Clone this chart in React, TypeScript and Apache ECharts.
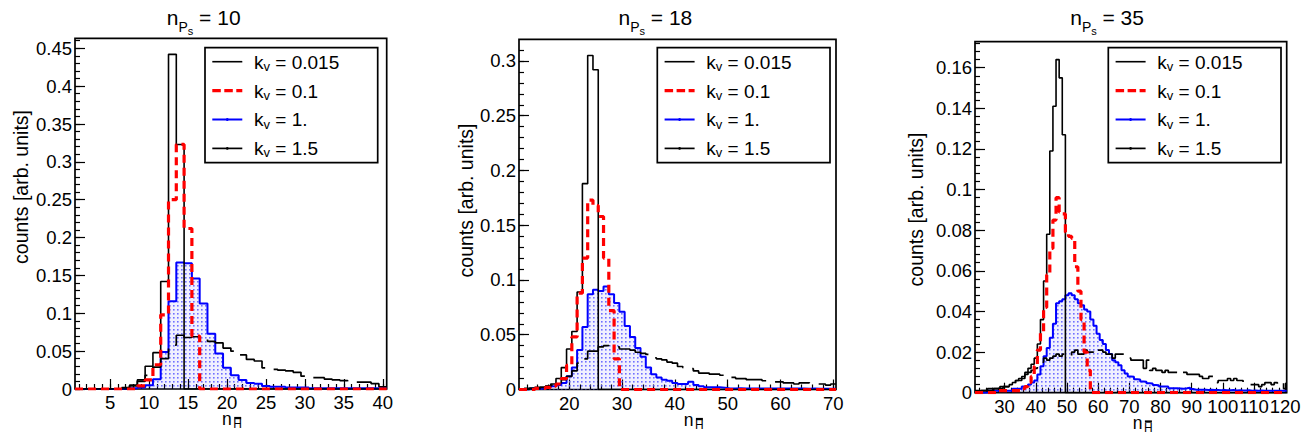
import React, { useEffect, useRef } from 'react';
import * as echarts from 'echarts';

const FONT_FAMILY = '"Liberation Sans", Arial, Helvetica, sans-serif';
const f = (size: number) => `${size}px ${FONT_FAMILY}`;

// ---------------- data ----------------
const SERIES_NAMES = ['k_v = 0.015', 'k_v = 0.1', 'k_v = 1.', 'k_v = 1.5'];
const LEGEND_VALUES = ['0.015', '0.1', '1.', '1.5'];
const PANEL_TITLE_VALUES = ['10', '18', '35'];
const Y_TITLE = 'counts [arb. units]';

// Panel 1 (n_Ps = 10): bins of width 1 centred on 1..40
const p1FirstBin = 1;
const p1_k0015 = [0, 0, 0, 0, 0, 0, 0, 0.004, 0.012, 0.030, 0.048, 0.142, 0.442, 0.323, 0, 0, 0, 0, 0, 0, 0, 0, 0, 0, 0, 0, 0, 0, 0, 0, 0, 0, 0, 0, 0, 0, 0, 0, 0, 0];
const p1_k01 = [0, 0, 0, 0, 0, 0, 0, 0, 0.004, 0.012, 0.032, 0.098, 0.250, 0.323, 0.212, 0.070, 0, 0, 0, 0, 0, 0, 0, 0, 0, 0, 0, 0, 0, 0, 0, 0, 0, 0, 0, 0, 0, 0, 0, 0];
const p1_k1 = [0, 0, 0, 0, 0, 0, 0, 0.001, 0.002, 0.005, 0.013, 0.049, 0.116, 0.167, 0.166, 0.146, 0.113, 0.073, 0.047, 0.028, 0.018, 0.012, 0.008, 0.007, 0.004, 0.003, 0.003, 0.002, 0.002, 0.002, 0.001, 0.001, 0.001, 0.001, 0.001, 0.001, 0.001, 0.001, 0.001, 0.001];
const p1_k15 = [0, 0, 0, 0, 0, 0.001, 0.002, 0.005, 0.010, 0.018, 0.029, 0.040, 0.058, 0.071, 0.068, 0.069, 0.066, 0.063, 0.061, 0.054, 0.050, 0.045, 0.039, 0.037, 0.028, 0.026, 0.025, 0.024, 0.022, 0.017, 0.015, 0.015, 0.013, 0.012, 0.011, 0.010, 0.009, 0.009, 0.007, 0.003];
const p1XLabels = [5, 10, 15, 20, 25, 30, 35, 40];
const p1YLabels = [0, 0.05, 0.1, 0.15, 0.2, 0.25, 0.3, 0.35, 0.4, 0.45];

// Panel 2 (n_Ps = 18): bins centred on 11..70
const p2FirstBin = 11;
const p2_k0015 = [0, 0, 0.001, 0.001, 0.002, 0.003, 0.005, 0.010, 0.020, 0.037, 0.053, 0.089, 0.188, 0.305, 0.292,
  0, 0, 0, 0, 0, 0, 0, 0, 0, 0, 0, 0, 0, 0, 0, 0, 0, 0, 0, 0, 0, 0, 0, 0, 0, 0, 0, 0, 0, 0, 0, 0, 0, 0, 0, 0, 0, 0, 0, 0, 0, 0, 0, 0, 0];
const p2_k01 = [0, 0, 0, 0.001, 0.001, 0.002, 0.003, 0.005, 0.010, 0.022, 0.048, 0.088, 0.120, 0.173, 0.168, 0.158, 0.120, 0.072, 0.028,
  0, 0, 0, 0, 0, 0, 0, 0, 0, 0, 0, 0, 0, 0, 0, 0, 0, 0, 0, 0, 0, 0, 0, 0, 0, 0, 0, 0, 0, 0, 0, 0, 0, 0, 0, 0, 0, 0, 0, 0, 0];
const p2_k1 = [0, 0, 0.001, 0.001, 0.001, 0.002, 0.003, 0.004, 0.006, 0.012, 0.020, 0.036, 0.057, 0.087, 0.091, 0.090, 0.094, 0.087, 0.079, 0.071,
  0.058, 0.048, 0.038, 0.030, 0.020, 0.014, 0.011, 0.009, 0.008, 0.006, 0.005, 0.005, 0.007, 0.004, 0.003, 0.002, 0.002, 0.002,
  0.0015, 0.001, 0.001, 0.0012, 0.001, 0.001, 0.001, 0.0008, 0.001, 0.001, 0.0008, 0.0008, 0.001, 0.0008, 0.0008, 0.0008, 0.0006, 0.0008, 0.0006, 0.0006, 0.0006, 0.0006];
const p2_k15 = [0, 0.001, 0.001, 0.002, 0.002, 0.003, 0.004, 0.006, 0.009, 0.012, 0.017, 0.024, 0.028, 0.035, 0.035, 0.039, 0.040, 0.039, 0.039, 0.037,
  0.037, 0.036, 0.034, 0.033, 0.032, 0.029, 0.028, 0.027, 0.025, 0.024, 0.021, 0.020, 0.019, 0.017, 0.015, 0.015, 0.014, 0.014, 0.013, 0.011,
  0.011, 0.010, 0.010, 0.009, 0.009, 0.009, 0.008, 0.008, 0.007, 0.007, 0.006, 0.006, 0.005, 0.006, 0.006, 0.005, 0.005, 0.005, 0.004, 0.005];
const p2XLabels = [20, 30, 40, 50, 60, 70];
const p2YLabels = [0, 0.05, 0.1, 0.15, 0.2, 0.25, 0.3];

// Panel 3 (n_Ps = 35): bins centred on 21..120
const p3FirstBin = 21;
const p3_k0015 = [
  0.0005, 0.0005, 0.001, 0.001, 0.001, 0.001, 0.002, 0.002, 0.002, 0.003,
  0.003, 0.004, 0.005, 0.006, 0.007, 0.008, 0.010, 0.012, 0.014, 0.017,
  0.024, 0.036, 0.055, 0.078, 0.119, 0.141, 0.164, 0.155, 0.127, 0,
  0, 0, 0, 0, 0, 0, 0, 0, 0, 0, 0, 0, 0, 0, 0, 0, 0, 0, 0, 0, 0, 0, 0, 0, 0, 0, 0, 0, 0, 0, 0, 0, 0, 0, 0, 0, 0, 0, 0, 0,
  0, 0, 0, 0, 0, 0, 0, 0, 0, 0, 0, 0, 0, 0, 0, 0, 0, 0, 0, 0, 0, 0, 0, 0, 0, 0, 0, 0, 0, 0];
const p3_k01 = [
  0, 0, 0, 0, 0, 0, 0, 0.001, 0.001, 0.001,
  0.001, 0.001, 0.001, 0.001, 0.001, 0.002, 0.003, 0.005, 0.008, 0.013,
  0.021, 0.030, 0.042, 0.058, 0.071, 0.085, 0.096, 0.089, 0.088, 0.079,
  0.077, 0.076, 0.062, 0.050, 0.036, 0.020, 0.011, 0, 0, 0,
  0, 0, 0, 0, 0, 0, 0, 0, 0, 0, 0, 0, 0, 0, 0, 0, 0, 0, 0, 0, 0, 0, 0, 0, 0, 0, 0, 0, 0, 0,
  0, 0, 0, 0, 0, 0, 0, 0, 0, 0, 0, 0, 0, 0, 0, 0, 0, 0, 0, 0, 0, 0, 0, 0, 0, 0, 0, 0, 0, 0];
const p3_k1 = [
  0, 0, 0, 0, 0.001, 0.001, 0.001, 0.001, 0.001, 0.001,
  0.001, 0.001, 0.002, 0.002, 0.002, 0.003, 0.003, 0.004, 0.005, 0.006,
  0.009, 0.013, 0.018, 0.022, 0.027, 0.034, 0.044, 0.045, 0.046, 0.048,
  0.049, 0.048, 0.046, 0.044, 0.043, 0.041, 0.040, 0.036, 0.033, 0.029,
  0.026, 0.024, 0.021, 0.019, 0.016, 0.015, 0.0135, 0.011, 0.0095, 0.008,
  0.0078, 0.0066, 0.0065, 0.0055, 0.0054, 0.0046, 0.0045, 0.0038, 0.0037, 0.003,
  0.003, 0.003, 0.0022, 0.0022, 0.0022, 0.0021, 0.002, 0.0022, 0.0025, 0.0018,
  0.0015, 0.0014, 0.0015, 0.0014, 0.0013, 0.0014, 0.0013, 0.0013, 0.0012, 0.0013,
  0.0012, 0.0012, 0.0013, 0.0011, 0.0012, 0.0011, 0.0011, 0.0012, 0.0010, 0.0011,
  0.0010, 0.0011, 0.0010, 0.0010, 0.0009, 0.0010, 0.0009, 0.0010, 0.0009, 0.0009];
const p3_k15 = [
  0.001, 0.001, 0.001, 0.001, 0.002, 0.002, 0.002, 0.002, 0.003, 0.003,
  0.003, 0.003, 0.004, 0.006, 0.006, 0.007, 0.009, 0.010, 0.011, 0.012,
  0.014, 0.015, 0.017, 0.016, 0.017, 0.018, 0.019, 0.018, 0.019, 0.019,
  0.018, 0.020, 0.021, 0.019, 0.019, 0.021, 0.020, 0.020, 0.022, 0.021,
  0.021, 0.020, 0.019, 0.019, 0.017, 0.019, 0.019, 0.019, 0.019, 0.017,
  0.016, 0.016, 0.016, 0.016, 0.012, 0.016, 0.011, 0.012, 0.011, 0.011,
  0.010, 0.011, 0.010, 0.010, 0.010, 0.011, 0.010, 0.010, 0.009, 0.009,
  0.009, 0.009, 0.008, 0.007, 0.007, 0.008, 0.008, 0.005, 0.006, 0.006,
  0.006, 0.007, 0.006, 0.007, 0.006, 0.006, 0.005, 0.005, 0.004, 0.004,
  0.004, 0.003, 0.004, 0.005, 0.005, 0.004, 0.005, 0.004, 0.005, 0.002];
const p3XLabels = [30, 40, 50, 60, 70, 80, 90, 100, 110, 120];
const p3YLabels = [0, 0.02, 0.04, 0.06, 0.08, 0.1, 0.12, 0.14, 0.16];

// ---------------- layout / style ----------------
function tickRange(start: number, end: number, step: number) {
  const out: number[] = [];
  const n = Math.round((end - start) / step);
  for (let i = 0; i <= n; i++) out.push(+(start + i * step).toFixed(4));
  return out;
}

const PANELS = [
  {
    grid: { left: 75, top: 38.3, width: 311.7, height: 350.7 },
    xMin: 0.5, xMax: 40.5, yMax: 0.4632, first: p1FirstBin,
    data: [p1_k0015, p1_k01, p1_k1, p1_k15],
    xLabels: p1XLabels, xMinor: tickRange(1, 40, 1),
    yLabels: p1YLabels, yMinor: tickRange(0, 0.46, 0.01),
    titleX: 166.8, legendX: 205, yNameX: 21, yNameY: 187, xNameX: 222.1, xNameDy: 0,
  },
  {
    grid: { left: 519, top: 39.3, width: 317, height: 350.2 },
    xMin: 10.5, xMax: 70.5, yMax: 0.3198, first: p2FirstBin,
    data: [p2_k0015, p2_k01, p2_k1, p2_k15],
    xLabels: p2XLabels, xMinor: tickRange(12, 70, 2),
    yLabels: p2YLabels, yMinor: tickRange(0, 0.31, 0.01),
    titleX: 618.5, legendX: 657.3, yNameX: 465.7, yNameY: 200.5, xNameX: 683.8, xNameDy: 1,
  },
  {
    grid: { left: 975, top: 41.7, width: 311.7, height: 351 },
    xMin: 20.5, xMax: 120.5, yMax: 0.1728, first: p3FirstBin,
    data: [p3_k0015, p3_k01, p3_k1, p3_k15],
    xLabels: p3XLabels, xMinor: tickRange(22, 120, 2),
    yLabels: p3YLabels, yMinor: tickRange(0, 0.172, 0.004),
    titleX: 1070.2, legendX: 1108.3, yNameX: 915.7, yNameY: 209.5, xNameX: 1132.8, xNameDy: 3.5,
  },
];

const LINE_STYLES = [
  { color: '#000000', width: 1.6, type: 'solid' as any },
  { color: '#ff0000', width: 3.2, type: [8, 5] as any },
  { color: '#0000ff', width: 2, type: 'solid' as any },
  { color: '#000000', width: 1.7, type: [38, 10] as any },
];
// drawing order: blue fill first, then k=1.5, k=0.015, red on top
const DRAW_ORDER = [2, 3, 0, 1];

function histPoints(first: number, vals: number[]) {
  const pts: number[][] = vals.map((v, i) => [first + i - 0.5, v]);
  pts.push([first + vals.length - 0.5, vals[vals.length - 1]]);
  return pts;
}

// ROOT fill style 3001-like: sparse light-blue dots on a faint blue tint
const DOT_TILE =
  'data:image/svg+xml;charset=utf-8,' +
  encodeURIComponent(
    "<svg xmlns='http://www.w3.org/2000/svg' width='4' height='4' viewBox='0 0 4 4'>" +
      "<rect x='0' y='0' width='4' height='4' fill='#2f2fff' fill-opacity='0.07'/>" +
      "<rect x='1' y='1' width='1.6' height='1.6' fill='#5a5aff' fill-opacity='0.85'/>" +
      '</svg>'
  );

function fmt(v: number) {
  return String(+Number(v).toFixed(3));
}

function buildOption() {
  const grid: any[] = [];
  const xAxis: any[] = [];
  const yAxis: any[] = [];
  const series: any[] = [];
  const graphic: any[] = [];

  PANELS.forEach((p, i) => {
    grid.push({
      ...p.grid,
      show: true,
      borderColor: '#000',
      borderWidth: 1.7,
      backgroundColor: 'transparent',
      containLabel: false,
      outerBoundsMode: 'none',
    });
    const common = {
      type: 'value',
      gridIndex: i,
      axisLine: { show: false },
      splitLine: { show: false },
    };
    xAxis.push({
      ...common,
      position: 'bottom',
      min: p.xMin,
      max: p.xMax,
      axisTick: { show: true, inside: true, length: 10, customValues: p.xLabels, lineStyle: { color: '#000', width: 1.2 } },
      axisLabel: { show: true, customValues: p.xLabels, margin: 4, color: '#000', fontSize: 18.5, fontFamily: FONT_FAMILY, formatter: fmt },
    });
    xAxis.push({
      ...common,
      position: 'bottom',
      min: p.xMin,
      max: p.xMax,
      axisTick: { show: true, inside: true, length: 5, customValues: p.xMinor, lineStyle: { color: '#000', width: 1.2 } },
      axisLabel: { show: false },
    });
    yAxis.push({
      ...common,
      position: 'left',
      min: 0,
      max: p.yMax,
      axisTick: { show: true, inside: true, length: 10, customValues: p.yLabels, lineStyle: { color: '#000', width: 1.2 } },
      axisLabel: { show: true, customValues: p.yLabels, margin: 3, color: '#000', fontSize: 18.5, fontFamily: FONT_FAMILY, formatter: fmt },
    });
    yAxis.push({
      ...common,
      position: 'left',
      min: 0,
      max: p.yMax,
      axisTick: { show: true, inside: true, length: 5, customValues: p.yMinor, lineStyle: { color: '#000', width: 1.2 } },
      axisLabel: { show: false },
    });

    DRAW_ORDER.forEach((s) => {
      const ls = LINE_STYLES[s];
      const item: any = {
        name: SERIES_NAMES[s],
        type: 'line',
        xAxisIndex: 2 * i,
        yAxisIndex: 2 * i,
        step: 'end',
        showSymbol: false,
        symbol: 'none',
        silent: true,
        animation: false,
        lineStyle: { color: ls.color, width: ls.width, type: ls.type },
        itemStyle: { color: ls.color },
        data: histPoints(p.first, p.data[s]),
      };
      if (s === 2) {
        item.areaStyle = { color: { image: DOT_TILE, repeat: 'repeat', imageWidth: 4, imageHeight: 4 }, opacity: 1 };
      }
      series.push(item);
    });

    // title  n_{P_s} = value
    const tx = p.titleX;
    graphic.push(
      { type: 'text', x: tx, y: 17.7, style: { text: 'n', font: f(21), fill: '#000', textVerticalAlign: 'middle', verticalAlign: 'middle' } },
      { type: 'text', x: tx + 11.7, y: 26.85, style: { text: 'P', font: f(14), fill: '#000', textVerticalAlign: 'middle', verticalAlign: 'middle' } },
      { type: 'text', x: tx + 21, y: 31.2, style: { text: 's', font: f(11), fill: '#000', textVerticalAlign: 'middle', verticalAlign: 'middle' } },
      { type: 'text', x: tx + 32.3, y: 17.7, style: { text: '= ' + PANEL_TITLE_VALUES[i], font: f(21), fill: '#000', textVerticalAlign: 'middle', verticalAlign: 'middle' } },
    );

    // y title
    graphic.push({
      type: 'text', x: p.yNameX, y: p.yNameY, rotation: Math.PI / 2,
      style: { text: Y_TITLE, font: f(19.5), fill: '#000', textAlign: 'center', align: 'center', textVerticalAlign: 'middle', verticalAlign: 'middle' },
    });

    // x title  n_{H-bar}
    const nx = p.xNameX;
    const dy = p.xNameDy;
    graphic.push(
      { type: 'text', x: nx, y: 419.2 + dy, style: { text: 'n', font: f(17.5), lineHeight: 11, fill: '#000', textVerticalAlign: 'middle', verticalAlign: 'middle' } },
      { type: 'text', x: nx + 11.2, y: 424.3 + dy, style: { text: 'H', font: f(12), lineHeight: 9, fill: '#000', textVerticalAlign: 'middle', verticalAlign: 'middle' } },
      { type: 'rect', shape: { x: nx + 12.1, y: 416.9 + dy, width: 7, height: 2.3 }, style: { fill: '#000' } },
    );

    // legend
    const L = p.legendX;
    graphic.push({
      type: 'rect', z: 100,
      shape: { x: L, y: 47.7, width: 172.7, height: 115 },
      style: { fill: '#fff', stroke: '#000', lineWidth: 1.7 },
    });
    for (let r = 0; r < 4; r++) {
      const ry = 61.7 + r * 28.9;
      const ls = LINE_STYLES[r];
      graphic.push({
        type: 'line', z: 101,
        shape: { x1: L + 7.3, y1: ry, x2: L + 37.3, y2: ry },
        style: { stroke: ls.color, lineWidth: ls.width, lineDash: r === 1 ? [8.5, 3.5] : null },
      });
      if (r >= 2) {
        graphic.push({ type: 'circle', z: 102, shape: { cx: L + 22.3, cy: ry, r: 1.4 }, style: { fill: ls.color } });
      }
      graphic.push(
        { type: 'text', z: 101, x: L + 49, y: ry + 0.4, style: { text: 'k', font: f(19), fill: '#000', textVerticalAlign: 'middle', verticalAlign: 'middle' } },
        { type: 'text', z: 101, x: L + 58.5, y: ry + 4.5, style: { text: 'v', font: f(13), fill: '#000', textVerticalAlign: 'middle', verticalAlign: 'middle' } },
        { type: 'text', z: 101, x: L + 70.3, y: ry + 0.4, style: { text: '= ' + LEGEND_VALUES[r], font: f(19), fill: '#000', textVerticalAlign: 'middle', verticalAlign: 'middle' } },
      );
    }
  });

  return {
    animation: false,
    backgroundColor: '#ffffff',
    textStyle: { fontFamily: FONT_FAMILY },
    grid,
    xAxis,
    yAxis,
    series,
    graphic,
  };
}

export default function App() {
  const ref = useRef<HTMLDivElement>(null);
  useEffect(() => {
    if (!ref.current) return;
    const chart = echarts.init(ref.current, null, { renderer: 'svg' });
    chart.setOption(buildOption() as any);
    return () => {
      chart.dispose();
    };
  }, []);
  return <div ref={ref} style={{ position: 'fixed', left: 0, top: 0, width: 1309, height: 437 }} />;
}
